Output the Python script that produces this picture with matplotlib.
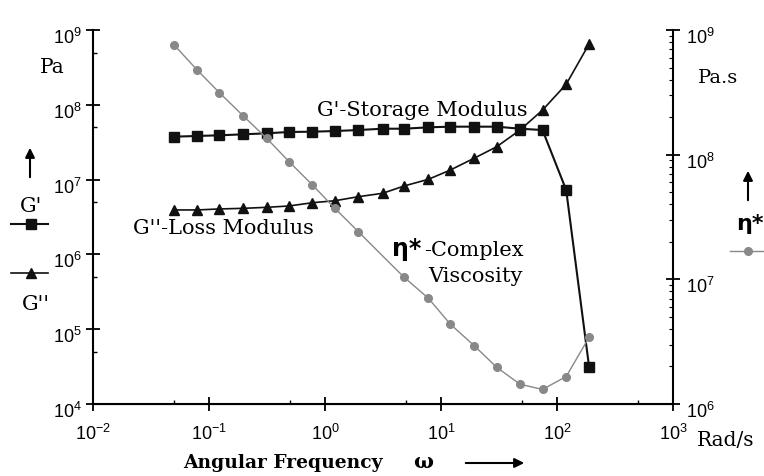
import matplotlib
matplotlib.use("Agg")
import matplotlib.pyplot as plt
from matplotlib.lines import Line2D
from matplotlib.patches import FancyArrowPatch
from matplotlib.transforms import ScaledTranslation
from matplotlib.ticker import FixedLocator, NullFormatter

# angular frequency (rad/s)
freq = [0.05, 0.079, 0.123, 0.198, 0.315, 0.49, 0.78, 1.22, 1.94, 3.14,
        4.8, 7.8, 12.0, 19.3, 30.2, 48.0, 75.0, 120.0, 189.0]
# G' storage modulus (Pa)
g_storage = [3.75e7, 3.83e7, 3.91e7, 4.03e7, 4.16e7, 4.33e7, 4.37e7, 4.46e7, 4.6e7, 4.79e7,
             4.79e7, 5.0e7, 5.1e7, 5.1e7, 5.1e7, 4.79e7, 4.6e7, 7.26e6, 3.15e4]
# G'' loss modulus (Pa)
g_loss = [3.93e6, 3.93e6, 4.05e6, 4.13e6, 4.26e6, 4.44e6, 4.91e6, 5.22e6, 5.91e6, 6.56e6,
          8.21e6, 1.01e7, 1.34e7, 1.93e7, 2.75e7, 4.6e7, 8.5e7, 1.88e8, 6.5e8]
# eta* complex viscosity (Pa.s)
eta = [7.59e8, 4.78e8, 3.14e8, 2.04e8, 1.35e8, 8.79e7, 5.71e7, 3.70e7, 2.41e7, 1.54e7,
       1.04e7, 7.04e6, 4.38e6, 2.94e6, 1.97e6, 1.44e6, 1.31e6, 1.66e6, 3.43e6]
eta_marked = [0, 1, 2, 3, 4, 5, 6, 7, 8, 10, 11, 12, 13, 14, 15, 16, 17, 18]

x_ticks = [1e-2, 1e-1, 1e0, 1e1, 1e2, 1e3]
x_labels = ["-2", "-1", "0", "1", "2", "3"]
left_ticks = [1e4, 1e5, 1e6, 1e7, 1e8, 1e9]
left_labels = ["4", "5", "6", "7", "8", "9"]
right_ticks = [1e6, 1e7, 1e8, 1e9]
right_labels = ["6", "7", "8", "9"]

plt.rcParams["font.family"] = "Liberation Sans"
plt.rcParams["mathtext.default"] = "regular"

W, H = 764, 476
SERIF = "DejaVu Serif"
GRAY = "#888888"


def fp(x, y):
    """image pixel -> figure fraction"""
    return x / W, 1 - y / H


def pow10(e):
    return r"$10^{%s}$" % e


def arrow(start, end):
    fig.patches.append(FancyArrowPatch(fp(*start), fp(*end), transform=fig.transFigure,
                                       arrowstyle="-|>", mutation_scale=14, lw=1.5,
                                       color="black"))


fig = plt.figure(figsize=(W / 100, H / 100), dpi=100)
ax = fig.add_axes([93 / W, 1 - 404 / H, 580 / W, 374 / H])
ax2 = ax.twinx()

ax.plot(freq, g_storage, color="#111111", lw=1.5, marker="s", ms=6.5)
ax.plot(freq, g_loss, color="#111111", lw=1.2, marker="^", ms=6.5)
ax2.plot(freq, eta, color=GRAY, lw=1.0, marker="o", ms=5.5, markevery=eta_marked)

ax.set_xscale("log")
ax.set_yscale("log")
ax2.set_yscale("log")
ax.set_xlim(1e-2, 1e3)
ax.set_ylim(1e4, 1e9)
ax2.set_ylim(1e6, 1e9)

for a in (ax, ax2):
    a.spines["top"].set_visible(False)
    a.patch.set_visible(False)
ax.spines["right"].set_visible(False)
ax2.spines["left"].set_visible(False)
for s in ("left", "bottom"):
    ax.spines[s].set_linewidth(1.5)
ax2.spines["right"].set_linewidth(1.5)

ax.set_xticks(x_ticks, [pow10(e) for e in x_labels])
ax.set_yticks(left_ticks, [pow10(e) for e in left_labels])
ax2.set_yticks(right_ticks, [pow10(e) for e in right_labels])
ax.xaxis.set_minor_locator(FixedLocator([5 * 10.0 ** k for k in range(-2, 3)]))
ax.yaxis.set_minor_locator(FixedLocator([5 * 10.0 ** k for k in range(4, 9)]))
ax2.yaxis.set_minor_locator(FixedLocator([m * 10.0 ** k for k in range(6, 9) for m in range(2, 10)]))
for a in (ax.xaxis, ax.yaxis, ax2.yaxis):
    a.set_minor_formatter(NullFormatter())

ax.tick_params(axis="x", which="major", direction="inout", length=10, width=1.3,
               labelsize=13, pad=9)
ax.tick_params(axis="y", which="major", direction="inout", length=10, width=1.3,
               labelsize=13, pad=3)
ax.tick_params(which="minor", direction="in", length=3, width=1.0)
ax2.tick_params(which="major", direction="inout", length=10, width=1.3, labelsize=13, pad=4)
ax2.tick_params(which="minor", direction="in", length=3, width=0.8)

# the "10" of each y label sits a little below its tick in the reference
shift = ScaledTranslation(0, -0.06, fig.dpi_scale_trans)
for lab in ax.get_yticklabels() + ax2.get_yticklabels():
    lab.set_transform(lab.get_transform() + shift)

# axis captions
fig.text(*fp(40, 68), "Pa", family=SERIF, fontsize=14.5, va="center")
fig.text(*fp(698, 78), "Pa.s", family=SERIF, fontsize=14, va="center")
fig.text(*fp(697, 440), "Rad/s", family=SERIF, fontsize=14.5, va="center")
fig.text(*fp(183, 463), "Angular Frequency", family=SERIF, fontsize=13.5,
         fontweight="bold", va="center")
fig.text(*fp(413, 462), "\u03c9", family=SERIF, fontsize=15, fontweight="bold", va="center")
arrow((463, 463), (527, 463))

# curve annotations
fig.text(*fp(317, 110), "G'-Storage Modulus", family=SERIF, fontsize=15, va="center")
fig.text(*fp(133, 228), "G''-Loss Modulus", family=SERIF, fontsize=15, va="center")
fig.text(*fp(392, 249), "\u03b7*", family="DejaVu Sans", fontsize=17,
         fontweight="bold", va="center")
fig.text(*fp(424, 250), "-Complex", family=SERIF, fontsize=15, va="center")
fig.text(*fp(428, 276), "Viscosity", family=SERIF, fontsize=15, va="center")

# left key: G' and G''
arrow((30, 180), (30, 145))
fig.text(*fp(20, 207), "G'", family=SERIF, fontsize=15, va="center")
fig.lines.append(Line2D([11 / W, 31 / W, 48 / W], [1 - 224 / H] * 3, transform=fig.transFigure,
                        color="#111111", lw=1.5, marker="s", ms=6.5, markevery=[1]))
fig.lines.append(Line2D([11 / W, 31 / W, 48 / W], [1 - 273 / H] * 3, transform=fig.transFigure,
                        color="#111111", lw=1.2, marker="^", ms=6.5, markevery=[1]))
fig.text(*fp(22, 305), "G''", family=SERIF, fontsize=15, va="center")

# right key: eta*
arrow((748, 203), (748, 168))
fig.text(*fp(736, 224), "\u03b7*", family="DejaVu Sans", fontsize=16,
         fontweight="bold", va="center")
fig.lines.append(Line2D([730 / W, 748 / W, 766 / W], [1 - 251 / H] * 3, transform=fig.transFigure,
                        color=GRAY, lw=1.0, marker="o", ms=5.5, markevery=[1]))

fig.savefig("out.png", dpi=100)
